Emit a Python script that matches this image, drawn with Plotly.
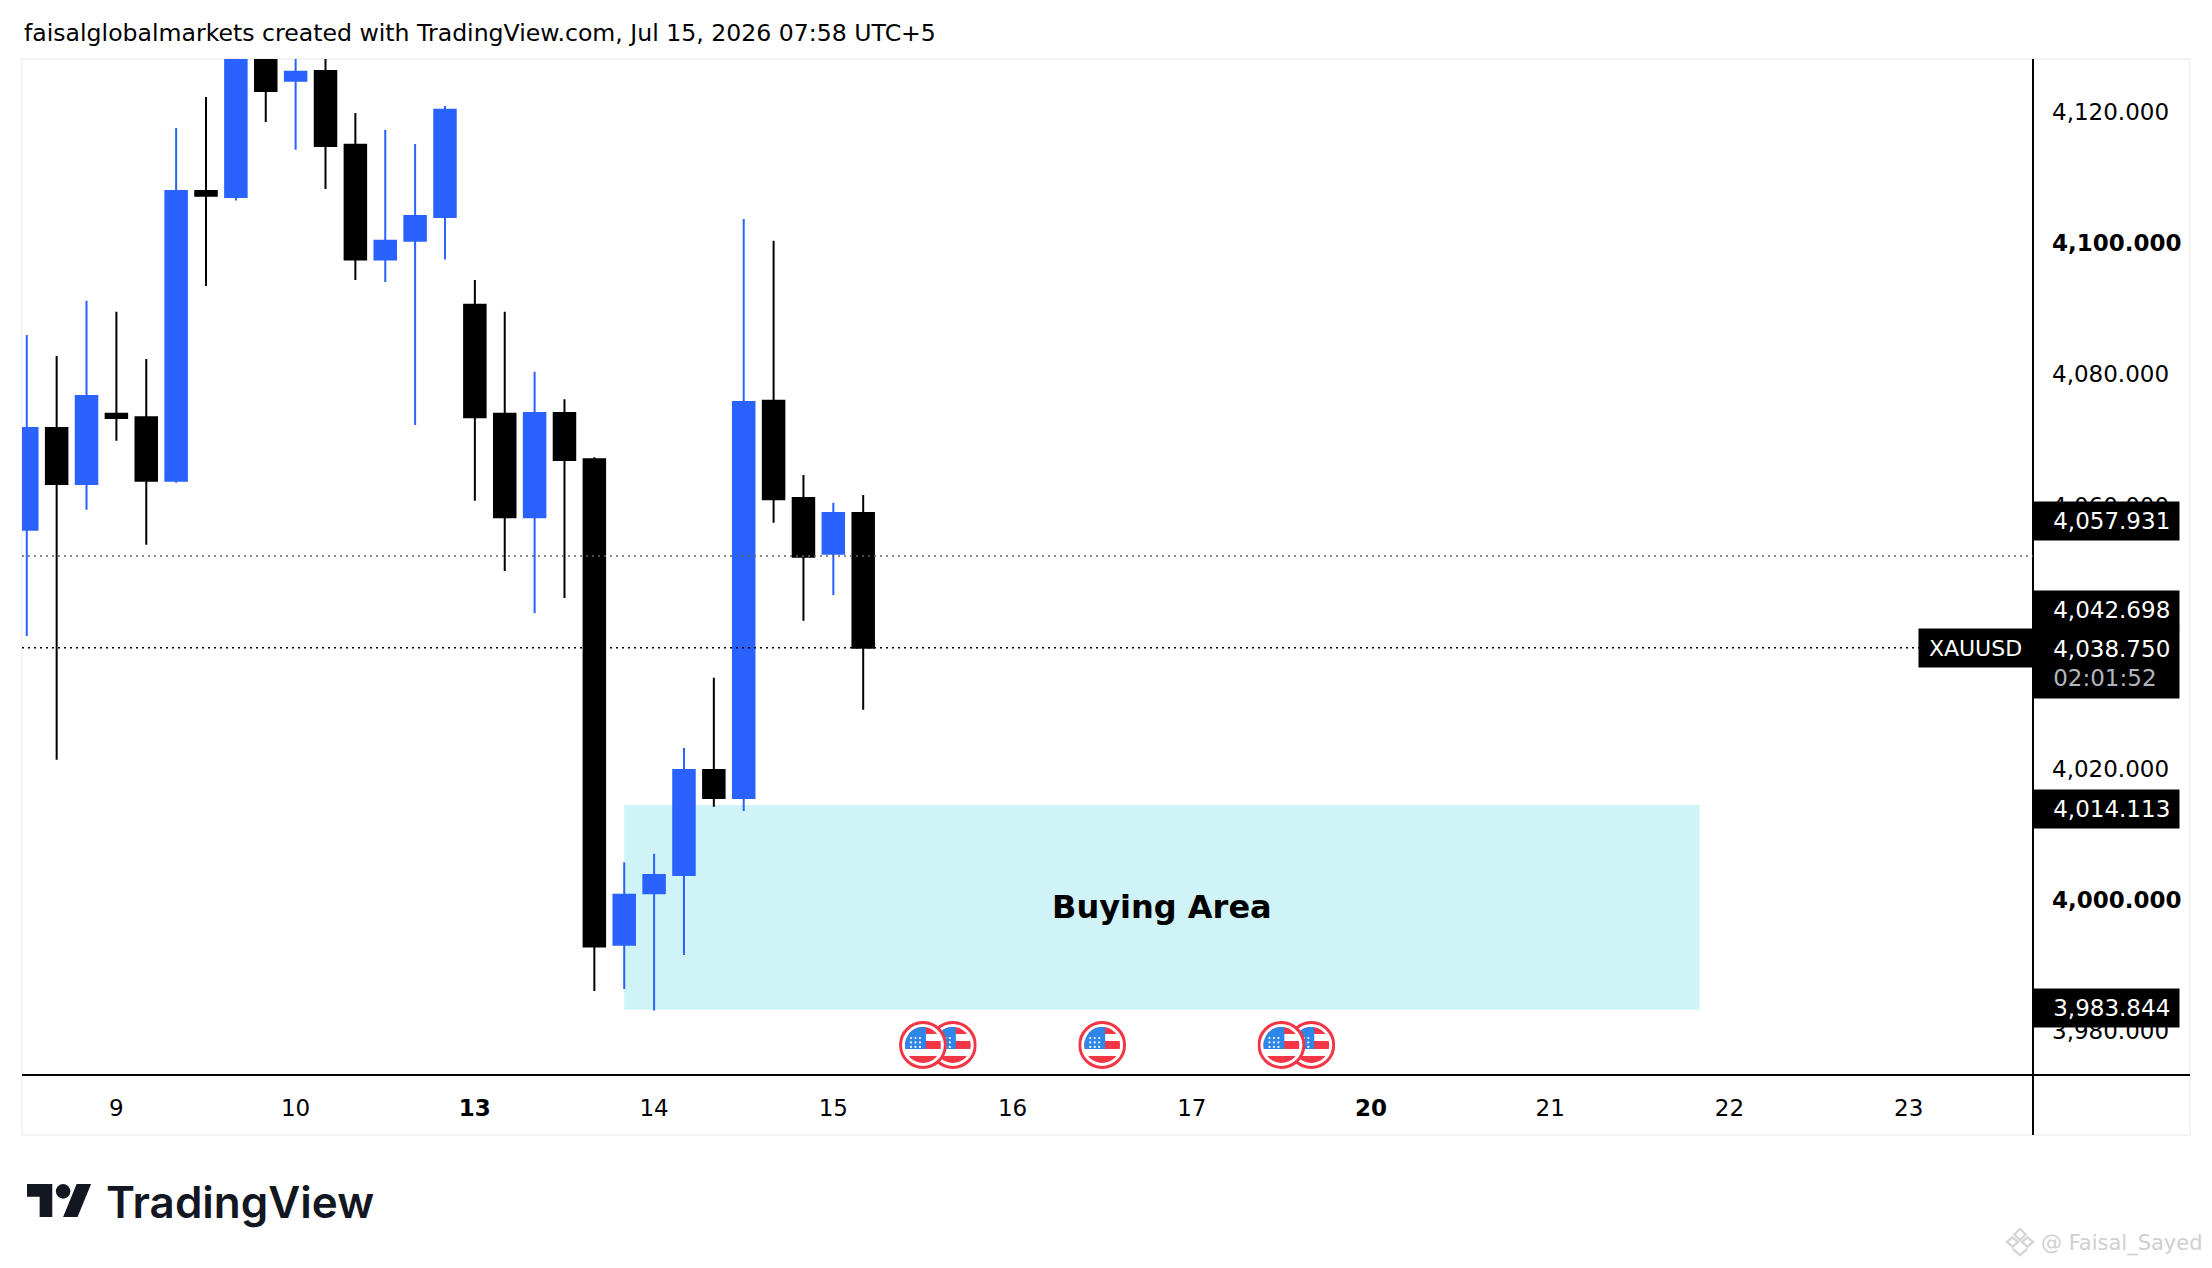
import base64
import plotly.graph_objects as go

# 4h bars
bar_index = list(range(29))
opens = [4056.35, 4071.82, 4063.30, 4073.99, 4073.49, 4063.80, 4107.91, 4106.98, 4129.00, 4124.69,
         4126.18, 4114.93, 4097.48, 4100.33, 4103.94, 4090.58, 4073.99, 4058.27, 4074.11, 4067.09,
         3993.18, 4001.04, 4003.81, 4019.79, 4015.51, 4075.98, 4061.19, 4052.68, 4058.89]
highs = [4085.98, 4082.81, 4091.20, 4089.52, 4082.32, 4117.48, 4122.20, 4130.00, 4131.00, 4130.00,
         4129.00, 4119.78, 4117.23, 4115.06, 4120.84, 4094.37, 4089.52, 4080.39, 4076.23, 4067.40,
         4005.76, 4007.02, 4023.12, 4033.81, 4103.63, 4100.33, 4064.67, 4060.45, 4061.63]
lows = [4040.19, 4021.36, 4059.39, 4069.89, 4054.05, 4063.49, 4093.44, 4106.48, 4118.41, 4114.19,
        4108.22, 4094.37, 4094.06, 4072.31, 4097.48, 4060.76, 4050.07, 4043.67, 4045.97, 3986.14,
        3986.45, 3983.18, 3991.61, 4014.19, 4013.56, 4057.40, 4042.49, 4046.41, 4028.97]
closes = [4071.82, 4063.30, 4076.72, 4073.37, 4063.80, 4107.91, 4107.17, 4128.00, 4123.14, 4126.06,
          4114.75, 4097.48, 4100.33, 4104.12, 4120.28, 4073.49, 4058.27, 4074.11, 4066.97, 3992.93,
          4000.79, 4003.81, 4019.79, 4015.51, 4075.79, 4061.00, 4052.24, 4058.89, 4038.40]

day_ticks = [3, 9, 15, 21, 27, 33, 39, 45, 51, 57, 63]
day_labels = ["9", "10", "<b>13</b>", "14", "15", "16", "17", "<b>20</b>", "21", "22", "23"]
price_ticks = [3980, 4000, 4020, 4040, 4060, 4080, 4100, 4120]
price_labels = ["3,980.000", "<b>4,000.000</b>", "4,020.000", "4,040.000",
                "4,060.000", "4,080.000", "<b>4,100.000</b>", "4,120.000"]

last_price = 4038.40
dotted_price = 4052.37
zone_bars = [20, 56]
zone_prices = [3983.30, 4014.45]
event_bars = [30, 31, 36, 42, 43]
event_price = 3977.93

BLUE = "#2962FF"
FONT = "DejaVu Sans"
W, H = 2212, 1268
PAD = "\u00a0\u00a0\u2009"  # left padding inside the price boxes


def svg_uri(svg):
    return "data:image/svg+xml;base64," + base64.b64encode(svg.encode()).decode()


stars = "".join(
    f'<circle cx="{x}" cy="{y}" r="1.1" fill="#fff"/>'
    for y in (17, 21.5, 26) for x in (12, 16.5, 21)
)
flag_svg = (
    '<svg xmlns="http://www.w3.org/2000/svg" viewBox="0 0 48 48">'
    '<clipPath id="c"><circle cx="24" cy="24" r="18"/></clipPath>'
    '<circle cx="24" cy="24" r="22.5" fill="#fff" stroke="#F23645" stroke-width="3"/>'
    '<g clip-path="url(#c)"><rect width="48" height="48" fill="#fff"/>'
    '<rect y="6" width="48" height="7" fill="#F23645"/>'
    '<rect y="20" width="48" height="8" fill="#F23645"/>'
    '<rect y="35" width="48" height="9" fill="#F23645"/>'
    '<rect x="5" y="6" width="22" height="22" fill="#2E86E8"/>' + stars + '</g></svg>'
)
logo_svg = (
    '<svg xmlns="http://www.w3.org/2000/svg" viewBox="0 4 36 18">'
    '<path fill="#131722" d="M14 22H7V11H0V4h14v18zM28 22h-8l7.5-18h8L28 22z"/>'
    '<circle fill="#131722" cx="20" cy="8" r="4"/></svg>'
)
mark_svg = (
    '<svg xmlns="http://www.w3.org/2000/svg" viewBox="0 0 32 32">'
    '<g fill="none" stroke="#d6d6d6" stroke-width="2.5">'
    '<path d="M16 2L22 8L16 14L10 8Z"/><path d="M2 16L8 11L14 16L8 21Z"/>'
    '<path d="M18 16L24 11L30 16L24 21Z"/><path d="M8 23L16 30L24 23"/></g></svg>'
)

fig = go.Figure(go.Candlestick(
    x=bar_index, open=opens, high=highs, low=lows, close=closes,
    increasing=dict(line=dict(color=BLUE, width=2), fillcolor=BLUE),
    decreasing=dict(line=dict(color="#000000", width=2), fillcolor="#000000"),
    whiskerwidth=0,
    showlegend=False,
))


def paper_line(x0, y0, x1, y1, color="#000000", width=2):
    fig.add_shape(type="line", xref="paper", yref="paper", layer="above",
                  x0=x0 / W, x1=x1 / W, y0=1 - y0 / H, y1=1 - y1 / H,
                  line=dict(color=color, width=width))


# outer frame, time axis line and price axis line
fig.add_shape(type="rect", xref="paper", yref="paper", layer="below",
              x0=22 / W, x1=2190 / W, y0=1 - 59 / H, y1=1 - 1135 / H,
              line=dict(color="#f3f3f3", width=2))
paper_line(22, 1075, 2190, 1075)
paper_line(2033, 59, 2033, 1135)

# buying zone and the two dotted price lines
fig.add_shape(type="rect", x0=zone_bars[0], x1=zone_bars[1], y0=zone_prices[0], y1=zone_prices[1],
              fillcolor="#CFF3F7", line_width=0, layer="below")
fig.add_shape(type="line", xref="x domain", x0=0, x1=1, y0=dotted_price, y1=dotted_price,
              line=dict(color="#666666", width=1.5, dash="2px,4px"))
fig.add_shape(type="line", xref="x domain", x0=0, x1=1, y0=last_price, y1=last_price,
              line=dict(color="#000000", width=1.5, dash="2px,4px"))

fig.add_annotation(x=sum(zone_bars) / 2, y=sum(zone_prices) / 2, text="<b>Buying Area</b>",
                   showarrow=False, font=dict(family=FONT, size=32, color="#000000"))


def price_box(price, text, shift=0, height=38):
    fig.add_annotation(xref="x domain", x=1, y=price, yshift=shift, xanchor="left", yanchor="middle",
                       text=PAD + text, align="left", valign="middle",
                       width=145, height=height, borderpad=0, bgcolor="#000000", showarrow=False,
                       font=dict(family=FONT, size=23, color="#ffffff"))


price_box(4057.931, "4,057.931", shift=-1.5)
price_box(4042.698, "4,042.698", shift=9)
price_box(4014.113, "4,014.113", shift=-1.5)
price_box(3983.844, "3,983.844", shift=-1.5)
price_box(last_price, "4,038.750<br>" + PAD + "<span style='color:#b2b5be'>02:01:52</span>",
          shift=-16, height=69)
fig.add_annotation(xref="x domain", x=1, y=last_price, xanchor="right", yanchor="middle",
                   text="XAUUSD", width=113, height=38, borderpad=0, bgcolor="#000000", showarrow=False,
                   font=dict(family=FONT, size=22, color="#ffffff"))

fig.add_annotation(xref="paper", yref="paper", x=22 / W, y=1 - 33 / H, xanchor="left", yanchor="middle",
                   text="faisalglobalmarkets created with TradingView.com, Jul 15, 2026 07:58 UTC+5",
                   showarrow=False, font=dict(family=FONT, size=23.6, color="#000000"))
fig.add_annotation(xref="paper", yref="paper", x=104 / W, y=1 - 1202 / H, xanchor="left", yanchor="middle",
                   text="TradingView", showarrow=False,
                   font=dict(family="Inter", size=44, weight=600, color="#131722"))
fig.add_annotation(xref="paper", yref="paper", x=2205 / W, y=1 - 1243 / H, xanchor="right", yanchor="middle",
                   text="@ Faisal_Sayed", showarrow=False,
                   font=dict(family=FONT, size=21, color="#cfcfcf"))

images = [dict(source=svg_uri(flag_svg), xref="x", yref="y", x=b, y=event_price, sizex=1.6, sizey=7.3,
               xanchor="center", yanchor="middle", sizing="stretch", layer="above")
          for b in reversed(event_bars)]
images.append(dict(source=svg_uri(logo_svg), xref="paper", yref="paper", x=27 / W, y=1 - 1184 / H,
                   sizex=65 / W, sizey=33 / H, xanchor="left", yanchor="top", sizing="stretch", layer="above"))
images.append(dict(source=svg_uri(mark_svg), xref="paper", yref="paper", x=2005 / W, y=1 - 1227 / H,
                   sizex=30 / W, sizey=30 / H, xanchor="left", yanchor="top", sizing="stretch", layer="above"))

fig.update_layout(
    width=W, height=H,
    margin=dict(l=0, r=0, t=0, b=0),
    paper_bgcolor="#ffffff", plot_bgcolor="#ffffff",
    images=images,
    boxgap=0.28, boxgroupgap=0,
    font=dict(family=FONT, size=23, color="#000000"),
    xaxis=dict(domain=[22 / W, 2033 / W], range=[-0.16, 67.16], rangeslider=dict(visible=False),
               tickmode="array", tickvals=day_ticks, ticktext=day_labels,
               showgrid=False, zeroline=False, ticks="", ticklabelstandoff=17),
    yaxis=dict(domain=[1 - 1075 / H, 1 - 59 / H], range=[3973.36, 4128.0], side="right",
               tickmode="array", tickvals=price_ticks, ticktext=price_labels,
               showgrid=False, zeroline=False, ticks="", ticklabelstandoff=18),
)

fig.write_html("out.html", config=dict(displayModeBar=False),
               post_script="document.body.style.margin='0';")
